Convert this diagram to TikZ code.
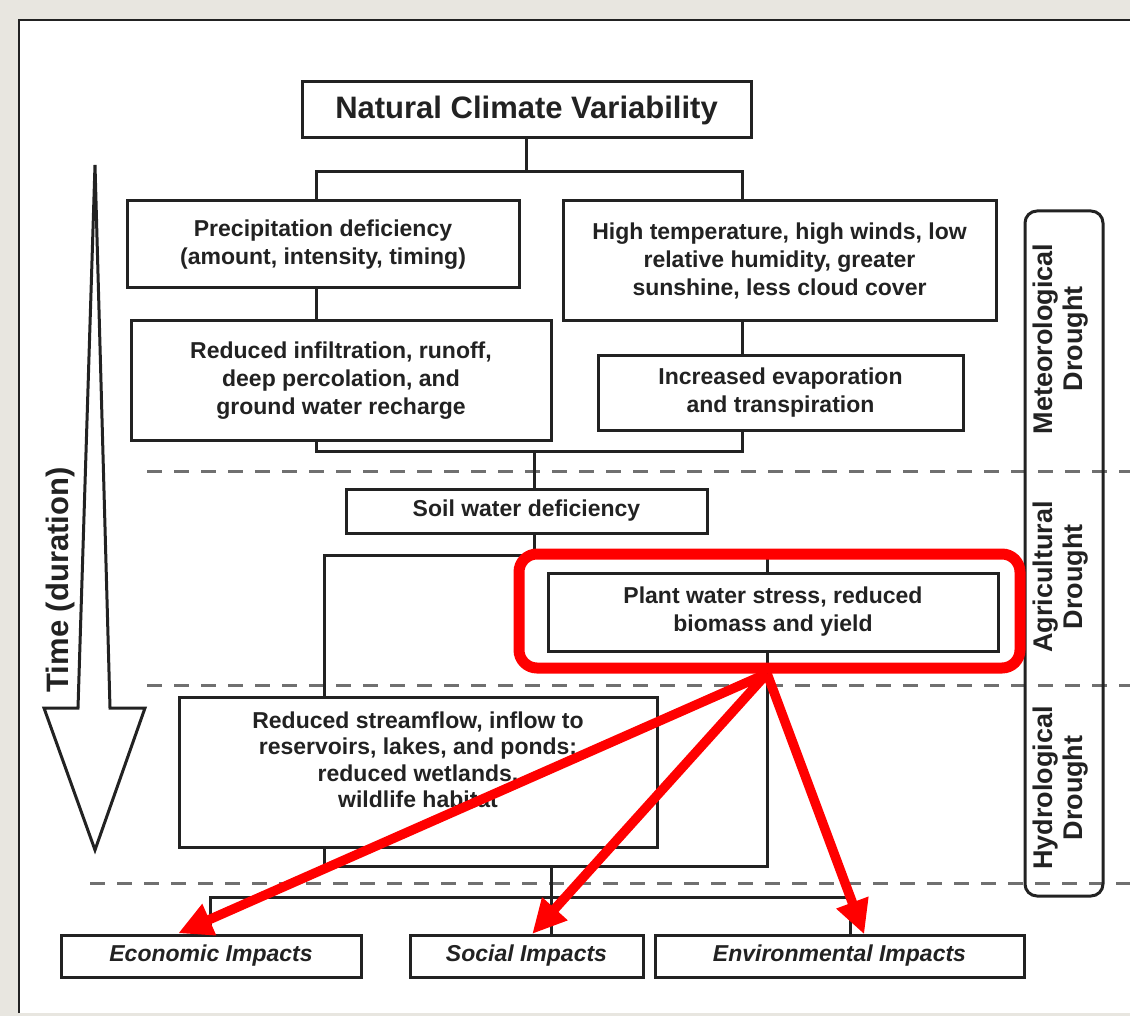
\documentclass[tikz,border=0pt]{standalone}
\usepackage{fontspec}
\setmainfont{Liberation Sans}
\usetikzlibrary{arrows.meta}

\definecolor{framegray}{HTML}{E8E6E0}
\definecolor{ink}{HTML}{222222}
\definecolor{dashgray}{HTML}{707070}
\definecolor{hired}{HTML}{FF0000}

\tikzset{
    box/.style={draw=ink, line width=3pt, fill=white, inner sep=0pt, align=center,
        text=ink, font=\fontsize{23}{28}\selectfont\bfseries},
    impact/.style={box, font=\fontsize{23}{28}\selectfont\bfseries\itshape},
    link/.style={draw=ink, line width=3pt},
    sep/.style={draw=dashgray, line width=3pt, dash pattern=on 15pt off 12pt},
    phase/.style={rotate=90, align=center, text=ink,
        font=\fontsize{27}{30}\selectfont\bfseries},
    redarrow/.style={draw=hired, line width=9.5pt,
        -{Triangle[length=34pt,width=32pt]}, shorten >=-2pt}
}

\begin{document}
\begin{tikzpicture}[x=1pt,y=-1pt]
    \useasboundingbox (0,0) rectangle (1130,1016);

    % Frame:
    \fill [framegray] (0,0) rectangle (1130,1016);
    \fill [white] (19,20) rectangle (1130,1013);
    \draw [ink, line width=2pt] (19,1013) -- (19,20) -- (1130,20);

    % Phase separators:
    \draw [sep] (147,471) -- (1130,471);
    \draw [sep] (147,685) -- (1130,685);
    \draw [sep] (90,883) -- (1130,883);

    % Boxes:
    \node [box, minimum width=449pt, minimum height=56pt,
        font=\fontsize{31}{34}\selectfont\bfseries] (ncv) at (526.5,110) {Natural Climate Variability};
    \node [box, minimum width=392pt, minimum height=87pt] (precip) at (323,244.5)
        {Precipitation deficiency\\(amount, intensity, timing)};
    \node [box, minimum width=433pt, minimum height=120pt] (heat) at (779.5,261)
        {High temperature, high winds, low\\relative humidity, greater\\sunshine, less cloud cover};
    \node [box, minimum width=420pt, minimum height=119pt] (infil) at (341,380.5)
        {Reduced infiltration, runoff,\\deep percolation, and\\ground water recharge};
    \node [box, minimum width=365pt, minimum height=75pt] (evap) at (780.5,392.5)
        {Increased evaporation\\and transpiration};
    \node [box, minimum width=361pt, minimum height=44pt] (soil) at (526.5,511) {Soil water deficiency};
    \node [box, minimum width=450pt, minimum height=78pt] (plant) at (773,612)
        {Plant water stress, reduced\\biomass and yield};
    \node [box, minimum width=478pt, minimum height=150pt, font=\fontsize{23}{26.5}\selectfont\bfseries] (flow) at (418,772)
        {Reduced streamflow, inflow to\\reservoirs, lakes, and ponds:\\reduced wetlands,\\wildlife habitat\\[-2pt]\mbox{}};
    \node [impact, minimum width=300pt, minimum height=42pt] (econ) at (211,956) {Economic Impacts};
    \node [impact, minimum width=233pt, minimum height=42pt] (social) at (526.5,956) {Social Impacts};
    \node [impact, minimum width=369pt, minimum height=42pt] (env) at (839.5,956) {Environmental Impacts};

    % Junctions:
    \coordinate (b1) at (316,172);
    \coordinate (b2) at (742,172);
    \coordinate (c1) at (316,451);
    \coordinate (c2) at (742,451);
    \coordinate (c3) at (534,451);
    \coordinate (d0) at (534,555);
    \coordinate (d1) at (324,555);
    \coordinate (d2) at (767,555);
    \coordinate (e1) at (324,866);
    \coordinate (e2) at (767,866);
    \coordinate (e3) at (551,866);
    \coordinate (f1) at (210,897);
    \coordinate (f2) at (551,897);
    \coordinate (f3) at (850,897);

    % Links:
    \draw [link] (ncv.south) -- (ncv.south |- b1);
    \draw [link] (precip.north -| b1) -- (b1) -- (b2) -- (heat.north -| b2);
    \draw [link] (precip.south -| b1) -- (infil.north -| b1);
    \draw [link] (heat.south -| b2) -- (evap.north -| b2);
    \draw [link] (infil.south -| c1) -- (c1) -- (c2) -- (evap.south -| c2);
    \draw [link] (c3) -- (soil.north -| c3);
    \draw [link] (soil.south -| d0) -- (d0);
    \draw [link] (flow.north -| d1) -- (d1) -- (d2) -- (plant.north -| d2);
    \draw [link] (flow.south -| e1) -- (e1) -- (e2) -- (plant.south -| e2);
    \draw [link] (e3) -- (f2);
    \draw [link] (econ.north -| f1) -- (f1) -- (f3) -- (env.north -| f3);
    \draw [link] (f2) -- (social.north -| f2);

    % Phase labels:
    \draw [ink, line width=3pt, rounded corners=12pt] (1025,211) rectangle (1103,896);
    \node [phase] (met) at (1061,339) {Meteorological\\Drought};
    \node [phase] (agr) at (1061,577) {Agricultural\\Drought};
    \node [phase] (hyd) at (1061,788) {Hydrological\\Drought};

    % Time arrow:
    \draw [ink, line width=3pt, fill=white, line join=miter]
        (95,165) -- (110,708) -- (145,708) -- (95,850) -- (44,708) -- (78,708) -- cycle;
    \node [rotate=90, text=ink, font=\fontsize{31}{34}\selectfont\bfseries] (time) at (60,580) {Time (duration)};

    % Highlight:
    \node [draw=hired, line width=11pt, rounded corners=18pt, inner sep=0pt,
        minimum width=501pt, minimum height=114pt] (hl) at (769.5,611) {};
    \draw [redarrow] (hl.south -| e2) -- ([shift={(-31,-1)}]econ.north);
    \draw [redarrow] (hl.south -| e2) -- ([shift={(7,-1)}]social.north);
    \draw [redarrow] (hl.south -| e2) -- ([shift={(24,-1)}]env.north);
\end{tikzpicture}
\end{document}
